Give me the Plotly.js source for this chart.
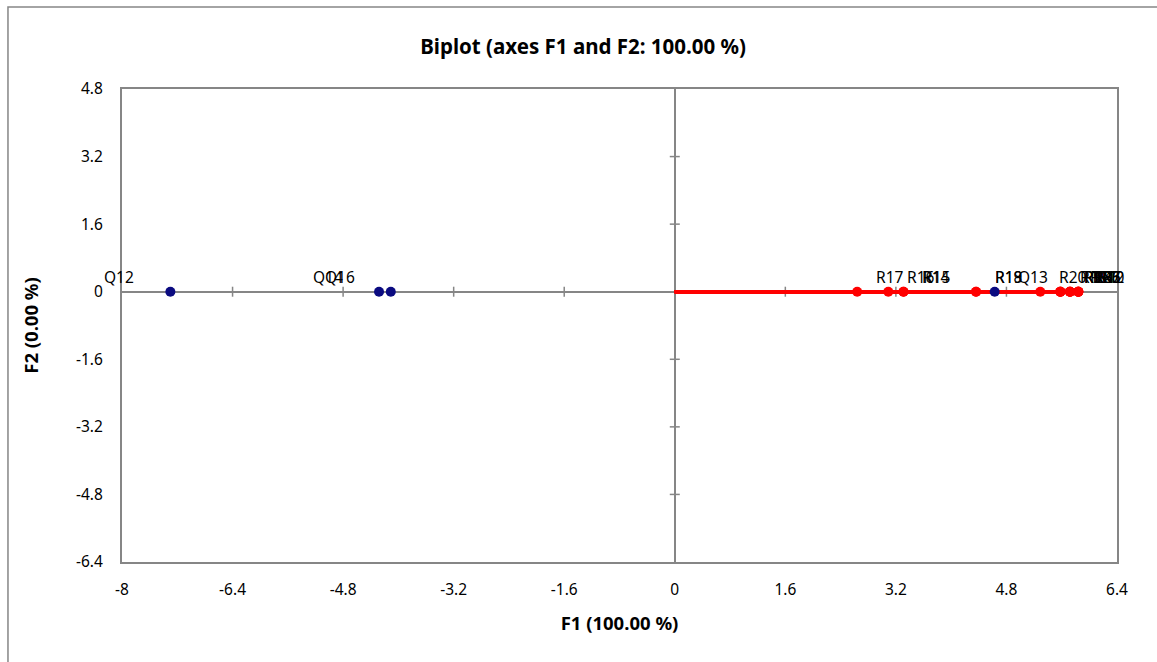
<!DOCTYPE html>
<html><head><meta charset="utf-8">
<script src="https://cdn.plot.ly/plotly-3.0.1.min.js"></script>
<style>html,body{margin:0;padding:0;background:#fff}#chart{width:1157px;height:662px}</style>
</head><body><div id="chart"></div>
<script>
// ---- data ----
const xTicks = [-8, -6.4, -4.8, -3.2, -1.6, 0, 1.6, 3.2, 4.8, 6.4];
const xTickText = ['-8', '-6.4', '-4.8', '-3.2', '-1.6', '0', '1.6', '3.2', '4.8', '6.4'];
const yTicks = [-6.4, -4.8, -3.2, -1.6, 0, 1.6, 3.2, 4.8];
const yTickText = ['-6.4', '-4.8', '-3.2', '-1.6', '0', '1.6', '3.2', '4.8'];

const obsNames = ['Q12', 'Q14', 'Q16', 'Q13'];
const obsF1 = [-7.30, -4.28, -4.11, 4.63];
const obsF2 = [0, 0, 0, 0];

const varNames = ['R17', 'R16', 'R15', 'R14', 'R19', 'R18', 'R20',
  'R13', 'R2', 'R9', 'R1', 'R3', 'R4', 'R8', 'R11', 'R5', 'R6', 'R7', 'R10', 'R12'];
const varF1 = [2.64, 3.09, 3.31, 3.31, 4.36, 4.36, 5.29,
  5.58, 5.58, 5.58, 5.58, 5.72, 5.72, 5.72, 5.72, 5.84, 5.84, 5.84, 5.84, 5.84];
const varF2 = varF1.map(() => 0);

// ---- styles ----
const FONT = 'Noto Sans, Open Sans, sans-serif';
const AXC = '#868686';
const RED = '#ff0000';
const NAVY = '#0a0a80';

const traces = [];
// vectors from origin
varF1.forEach((v, i) => {
  traces.push({x: [0, v], y: [0, varF2[i]], mode: 'lines', type: 'scatter',
    line: {color: RED, width: 3}, hoverinfo: 'skip', showlegend: false, cliponaxis: false});
});
traces.push({x: varF1, y: varF2, text: varNames, mode: 'markers', type: 'scatter',
  marker: {color: RED, size: 10}, showlegend: false, cliponaxis: false});
traces.push({x: obsF1, y: obsF2, text: obsNames, mode: 'markers', type: 'scatter',
  marker: {color: NAVY, size: 10}, showlegend: false, cliponaxis: false});

const annotations = [];
varF1.forEach((v, i) => annotations.push({x: v, y: varF2[i], xref: 'x', yref: 'y',
  text: varNames[i], showarrow: false, xshift: 33, yshift: 15,
  font: {family: FONT, size: 15.5, color: '#000'}}));
obsF1.forEach((v, i) => annotations.push({x: v, y: obsF2[i], xref: 'x', yref: 'y',
  text: obsNames[i], showarrow: false, xshift: v < 0 ? -51 : 38, yshift: 15,
  font: {family: FONT, size: 15.5, color: '#000'}}));

const shapes = [];
// crossing tick marks on the central axes
xTicks.forEach(t => { if (t !== 0 && t !== xTicks[0] && t !== xTicks[xTicks.length-1]) shapes.push({
  type: 'line', xref: 'x', yref: 'y', ysizemode: 'pixel', yanchor: 0,
  x0: t, x1: t, y0: -5, y1: 5, line: {color: AXC, width: 1.5}, layer: 'below'}); });
yTicks.forEach(t => { if (t !== 0 && t !== yTicks[0] && t !== yTicks[yTicks.length-1]) shapes.push({
  type: 'line', xref: 'x', yref: 'y', xsizemode: 'pixel', xanchor: 0,
  y0: t, y1: t, x0: -5, x1: 5, line: {color: AXC, width: 1.5}, layer: 'below'}); });
// outer chart border
shapes.push({type: 'rect', xref: 'paper', yref: 'paper',
  x0: -0.1146, x1: 1.3, y0: -0.4, y1: 1.1734, line: {color: AXC, width: 1.5}});

const layout = {
  width: 1157, height: 662,
  margin: {l: 122, r: 40, t: 89, b: 100},
  paper_bgcolor: '#fff', plot_bgcolor: '#fff',
  font: {family: FONT, size: 15, color: '#000'},
  showlegend: false,
  title: {text: '<b>Biplot (axes F1 and F2: 100.00 %)</b>', x: 0.504, xanchor: 'center',
    y: 0.93, yanchor: 'middle', font: {family: FONT, size: 20.5, color: '#000'}},
  xaxis: {range: [-8, 6.4], tickvals: xTicks, ticktext: xTickText,
    showgrid: false, zeroline: true, zerolinecolor: AXC, zerolinewidth: 2,
    showline: true, mirror: true, linecolor: AXC, linewidth: 2,
    ticks: 'outside', ticklen: 12, tickcolor: 'rgba(0,0,0,0)',
    tickfont: {family: FONT, size: 15.5, color: '#000'},
    title: {text: '<b>F1 (100.00 %)</b>', standoff: 18, font: {family: FONT, size: 18.5, color: '#000'}}},
  yaxis: {range: [-6.4, 4.8], tickvals: yTicks, ticktext: yTickText,
    showgrid: false, zeroline: true, zerolinecolor: AXC, zerolinewidth: 2,
    showline: true, mirror: true, linecolor: AXC, linewidth: 2,
    ticks: 'outside', ticklen: 14, tickcolor: 'rgba(0,0,0,0)',
    tickfont: {family: FONT, size: 15.5, color: '#000'},
    title: {text: '<b>F2 (0.00 %)</b>', standoff: 33, font: {family: FONT, size: 18.5, color: '#000'}}},
  annotations: annotations,
  shapes: shapes
};

Plotly.newPlot('chart', traces, layout, {displayModeBar: false, responsive: false});
</script>
</body></html>
